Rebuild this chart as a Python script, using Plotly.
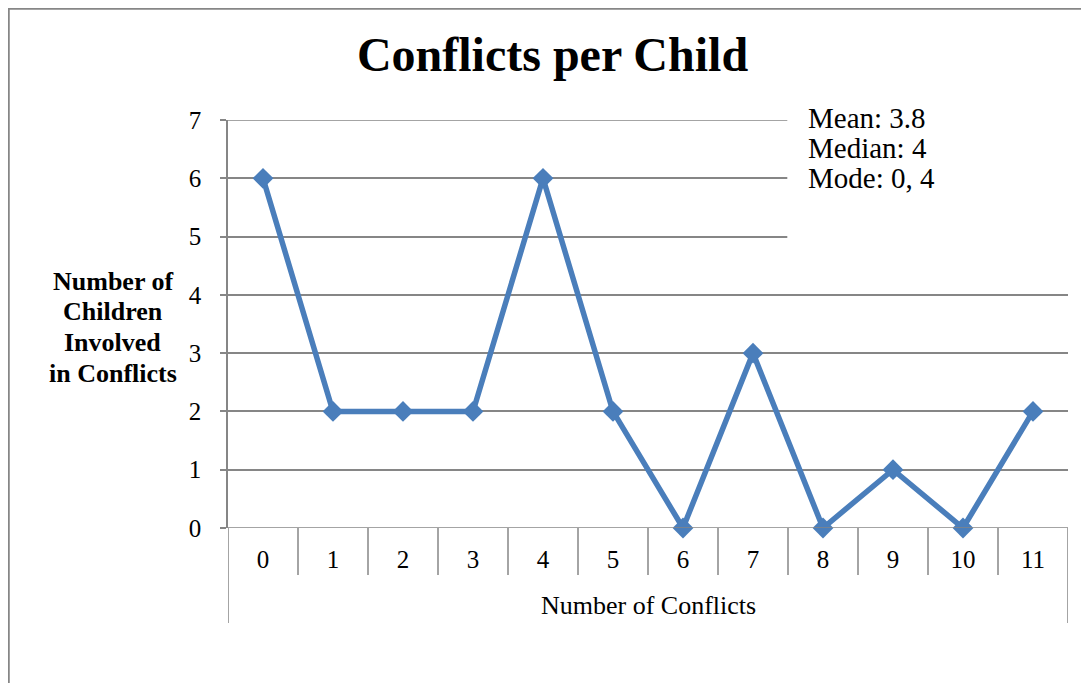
import plotly.graph_objects as go

conflicts = [0, 1, 2, 3, 4, 5, 6, 7, 8, 9, 10, 11]
children = [6, 2, 2, 2, 6, 2, 0, 3, 0, 1, 0, 2]
stats_lines = ['Mean: 3.8', 'Median: 4', 'Mode: 0, 4']
ytitle_lines = ['Number of', 'Children', 'Involved', 'in Conflicts']

serif = 'Liberation Serif, Times New Roman, serif'
grey = '#868686'
blue = '#4A7EBB'

fig = go.Figure()
fig.add_trace(go.Scatter(
    x=conflicts, y=children, mode='lines+markers',
    line=dict(color=blue, width=5.5),
    marker=dict(symbol='diamond', size=16, color=blue),
    cliponaxis=False, showlegend=False,
))

# the page body adds 8px, so margins are shifted to compensate
fig.update_layout(
    width=1089, height=683,
    margin=dict(l=220, r=29, t=112, b=163),
    plot_bgcolor='white', paper_bgcolor='white',
    font=dict(family=serif, size=25, color='black'),
    title=dict(text='<b>Conflicts per Child</b>', x=0.5, xanchor='center',
               y=0.933, yanchor='middle', font=dict(size=48)),
)

fig.update_xaxes(
    range=[-0.5, 11.5], tickvals=conflicts, ticktext=[str(c) for c in conflicts],
    showgrid=False, zeroline=False, showline=False, ticks='',
    ticklabelstandoff=14, tickfont=dict(size=25),
)
fig.update_yaxes(
    range=[0, 7], dtick=1, showgrid=True, gridcolor=grey, gridwidth=1.5,
    zeroline=False, showline=True, linecolor=grey, linewidth=1.5,
    ticks='outside', ticklen=6, tickcolor=grey, tickwidth=1.5,
    ticklabelstandoff=14, tickfont=dict(size=25),
)

# white box behind the stats text, covering the upper gridlines
fig.add_shape(type='rect', xref='x', yref='y', x0=7.49, x1=11.6, y0=4.8, y1=7.3,
              fillcolor='white', line=dict(width=0), layer='between')
# top gridline (not drawn at the range edge)
fig.add_shape(type='line', xref='x', yref='y', x0=-0.5, x1=7.49, y0=7, y1=7,
              line=dict(color=grey, width=1.5), layer='between')

# category axis: baseline, dividers and outer frame
fig.add_shape(type='line', xref='x', yref='y', x0=-0.5, x1=11.5, y0=0, y1=0,
              line=dict(color=grey, width=1.5))
for k in range(1, len(conflicts)):
    fig.add_shape(type='line', xref='x', yref='paper', x0=k - 0.5, x1=k - 0.5,
                  y0=0, y1=-0.115, line=dict(color=grey, width=1.5))
for xe in (-0.5, 11.5):
    fig.add_shape(type='line', xref='x', yref='paper', x0=xe, x1=xe,
                  y0=0, y1=-0.233, line=dict(color=grey, width=1.5))

# chart border
fig.add_shape(type='rect', xref='paper', yref='paper',
              x0=-0.261, x1=1.06, y0=-0.45, y1=1.2727,
              line=dict(color=grey, width=2), fillcolor='rgba(0,0,0,0)')

fig.add_annotation(text='Number of Conflicts', xref='paper', yref='paper',
                   x=0.5, y=-0.19, xanchor='center', yanchor='middle',
                   showarrow=False, font=dict(size=26))

for i, line in enumerate(ytitle_lines):
    fig.add_annotation(text=f'<b>{line}</b>', xref='paper', yref='paper',
                       x=-0.137, y=(528 - (281 + 30.7 * i)) / 408,
                       xanchor='center', yanchor='middle', showarrow=False,
                       font=dict(size=26))

for i, line in enumerate(stats_lines):
    fig.add_annotation(text=line, xref='paper', yref='paper',
                       x=(806 - 228) / 840, y=(528 - (118 + 30 * i)) / 408,
                       xanchor='left', yanchor='middle', showarrow=False,
                       font=dict(size=29))

fig.write_html('out.html')
